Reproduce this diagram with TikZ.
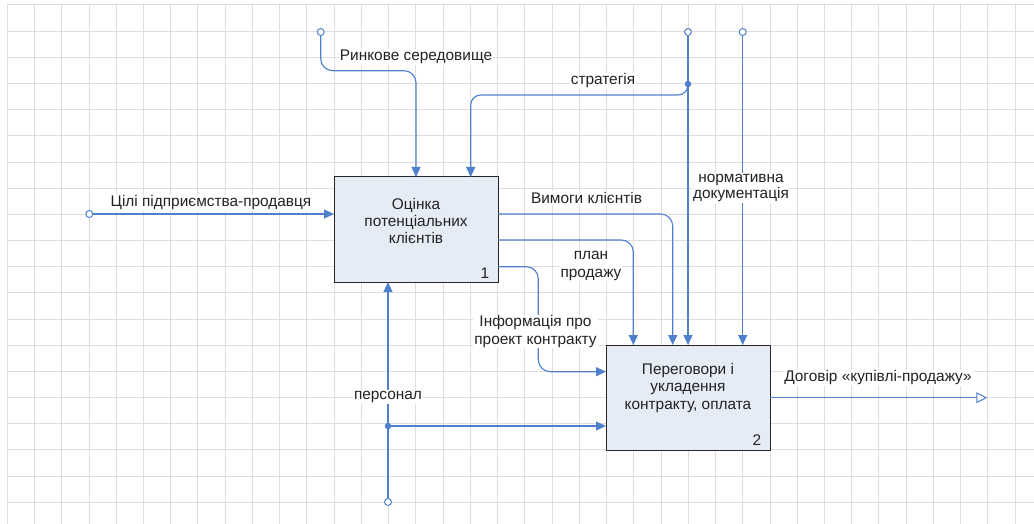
\documentclass[tikz,border=0pt]{standalone}
\usepackage{fontspec}
\setmainfont{Liberation Sans}
\usetikzlibrary{arrows.meta}
\definecolor{flow}{HTML}{4F80CC}
\definecolor{boxfill}{HTML}{E6ECF6}
\definecolor{gridc}{HTML}{DEDEDE}
\definecolor{ink}{HTML}{222222}
\begin{document}
\begin{tikzpicture}[x=1pt,y=-1pt,
  font=\fontsize{15.4}{17.4}\selectfont,
  gridline/.style={gridc, line width=1pt},
  func/.style={draw=black!85, fill=boxfill, line width=1pt, minimum width=164pt,
    minimum height=105pt, inner sep=0pt, outer sep=0pt, anchor=north west},
  functext/.style={text=ink, align=center, inner sep=0pt},
  flowline/.style={flow, line width=1.15pt, rounded corners=12pt},
  arr/.style={-{Triangle[length=10pt,width=9pt]}},
  outarr/.style={-{Triangle[open,length=11pt,width=11pt,fill=white]}},
  lbl/.style={fill=white, inner sep=1pt, text=ink, align=center},
  tunnel/.style={circle, draw=flow, fill=white, line width=1pt, minimum size=7pt, inner sep=0pt},
  joint/.style={circle, fill=flow, minimum size=6.5pt, inner sep=0pt}]

\useasboundingbox (0,0) rectangle (1034,524);

% squared paper
\foreach \k in {0,...,37}
  \draw[gridline] ({7.3+27.24*\k},5) -- ({7.3+27.24*\k},524);
\foreach \k in {0,...,19}
  \draw[gridline] (7.3,{5+26.17*\k}) -- (1034,{5+26.17*\k});

% activity boxes
\node[func] (box1) at (334,177) {};
\node[func] (box2) at (606,345) {};

% tunnel ends and branch points
\node[tunnel] (inA)  at (89.3,214) {};
\node[tunnel] (ctlA) at (320.7,32) {};
\node[tunnel] (ctlB) at (688,32) {};
\node[tunnel] (ctlC) at (742.7,32) {};
\node[tunnel] (mecA) at (388,502) {};
\coordinate (outEnd) at (987.3,397.7);

% input
\draw[flowline, arr] (inA) -- (inA -| box1.west);

% controls
\draw[flowline, arr] (ctlA) -- (320.7,70.7) -- (416,70.7) -- (box1.north);
\draw[flowline, arr] (ctlB) -- (box2.north);
\draw[flowline, arr, rounded corners=10pt] (688,84) -- (688,95) -- (470.7,95) -- (470.7,0 |- box1.north);
\draw[flowline, arr] (ctlC) -- (ctlC |- box2.north);

% outputs of box 1
\draw[flowline, arr] (box1.east |- 0,214) -- (672.7,214) -- (672.7,0 |- box2.north);
\draw[flowline, arr] (box1.east |- 0,240) -- (633.3,240) -- (633.3,0 |- box2.north);
\draw[flowline, arr] (box1.east |- 0,266.7) -- (538.3,266.7) -- (538.3,371.7) -- (box2.west |- 0,371.7);

% mechanism
\draw[flowline, arr] (mecA) -- (388,0 |- box1.south);
\draw[flowline, arr] (388,426) -- (box2.west |- 0,426);

% final output
\draw[flowline, outarr, line width=1pt] (box2.east |- outEnd) -- (outEnd);

% branch dots
\node[joint] (jB) at (688,84) {};
\node[joint] (jM) at (388,426) {};

% box texts
\node[functext] (t1) at (416,221) {Оцінка\\потенціальних\\клієнтів};
\node[functext] (n1) at (485,273) {1};
\node[functext] (t2) at (688,388) {Переговори і\\укладення\\контракту, оплата};
\node[functext] (n2) at (757,440) {2};

% arrow labels
\node[lbl] (lIn)   at (211,203)   {Цілі підприємства-продавця};
\node[lbl] (lMark) at (416,57)    {Ринкове середовище};
\node[lbl] (lStr)  at (603,81)    {стратегія};
\node[lbl] (lReq)  at (586.5,198) {Вимоги клієнтів};
\node[lbl, font=\fontsize{15.4}{16.5}\selectfont] (lNorm) at (741,188) {нормативна\\документація};
\node[lbl] (lPlan) at (591,266)   {план\\продажу};
\node[lbl] (lInfo) at (535.5,331.5) {Інформація про\\проект контракту};
\node[lbl] (lPers) at (388,397)   {персонал};
\node[lbl] (lOut)  at (878,378)   {Договір «купівлі-продажу»};
\end{tikzpicture}
\end{document}
